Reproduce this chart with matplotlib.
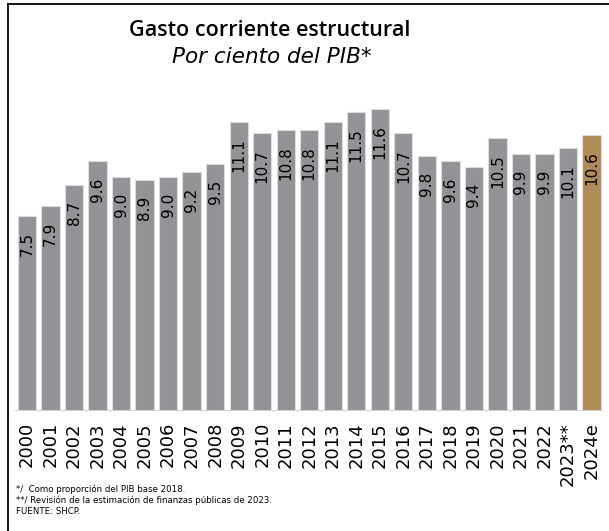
import matplotlib
matplotlib.use("Agg")
import matplotlib.pyplot as plt
from matplotlib.lines import Line2D

years = ["2000", "2001", "2002", "2003", "2004", "2005", "2006", "2007", "2008", "2009",
         "2010", "2011", "2012", "2013", "2014", "2015", "2016", "2017", "2018", "2019",
         "2020", "2021", "2022", "2023**", "2024e"]
values = [7.5, 7.9, 8.7, 9.6, 9.0, 8.9, 9.0, 9.2, 9.5, 11.1,
          10.7, 10.8, 10.8, 11.1, 11.5, 11.6, 10.7, 9.8, 9.6, 9.4,
          10.5, 9.9, 9.9, 10.1, 10.6]
title = "Gasto corriente estructural"
subtitle = "Por ciento del PIB*"
notes = ["*/  Como proporción del PIB base 2018.",
         "**/ Revisión de la estimación de finanzas públicas de 2023.",
         "FUENTE: SHCP."]

W, H = 609, 531
fig = plt.figure(figsize=(W / 100, H / 100), dpi=100)
plt.rcParams['font.family'] = ['DejaVu Sans']

# frame (left and top visible)
fig.add_artist(Line2D([8 / W, 8 / W], [0, 1 - 3.5 / H], transform=fig.transFigure, color='black', lw=1.3))
fig.add_artist(Line2D([8 / W, 1], [1 - 3.5 / H, 1 - 3.5 / H], transform=fig.transFigure, color='black', lw=1.3))

ax = fig.add_axes([15 / W, (H - 411) / H, (603 - 15) / W, 312 / H])
x = list(range(len(years)))
colors = ['#939397'] * (len(years) - 1) + ['#B08A57']
bars = ax.bar(x, values, width=0.78, color=colors, edgecolor='#dcdcdc', linewidth=0.8, zorder=2)
ax.set_xlim(-0.51, len(years) - 0.51)
ax.set_ylim(0, 12)
ax.axhline(0, color='#cfcfcf', lw=1.5, zorder=3)
for s in ax.spines.values():
    s.set_visible(False)
ax.set_yticks([])
ax.set_xticks(x)
ax.set_xticklabels(years, rotation=90, fontsize=13, color='black')
ax.tick_params(axis='x', length=0, pad=8)

for xi, v in zip(x, values):
    ax.annotate(f"{v:.1f}", (xi, v), xytext=(0, -11.5), textcoords='offset points',
                rotation=90, ha='center', va='top', fontsize=11, color='black', zorder=4)

fig.text(270 / W, 1 - 30 / H, title, ha='center', va='center', fontsize=15.5,
         fontweight='semibold', family=['Open Sans', 'DejaVu Sans'])
fig.text(272 / W, 1 - 57 / H, subtitle, ha='center', va='center', fontsize=15.5,
         style='italic', family=['DejaVu Sans'])

for i, n in enumerate(notes):
    fig.text(16 / W, 1 - (489 + 11 * i) / H, n, ha='left', va='center', fontsize=6.2)

fig.savefig("out.png", dpi=100, facecolor='white')
